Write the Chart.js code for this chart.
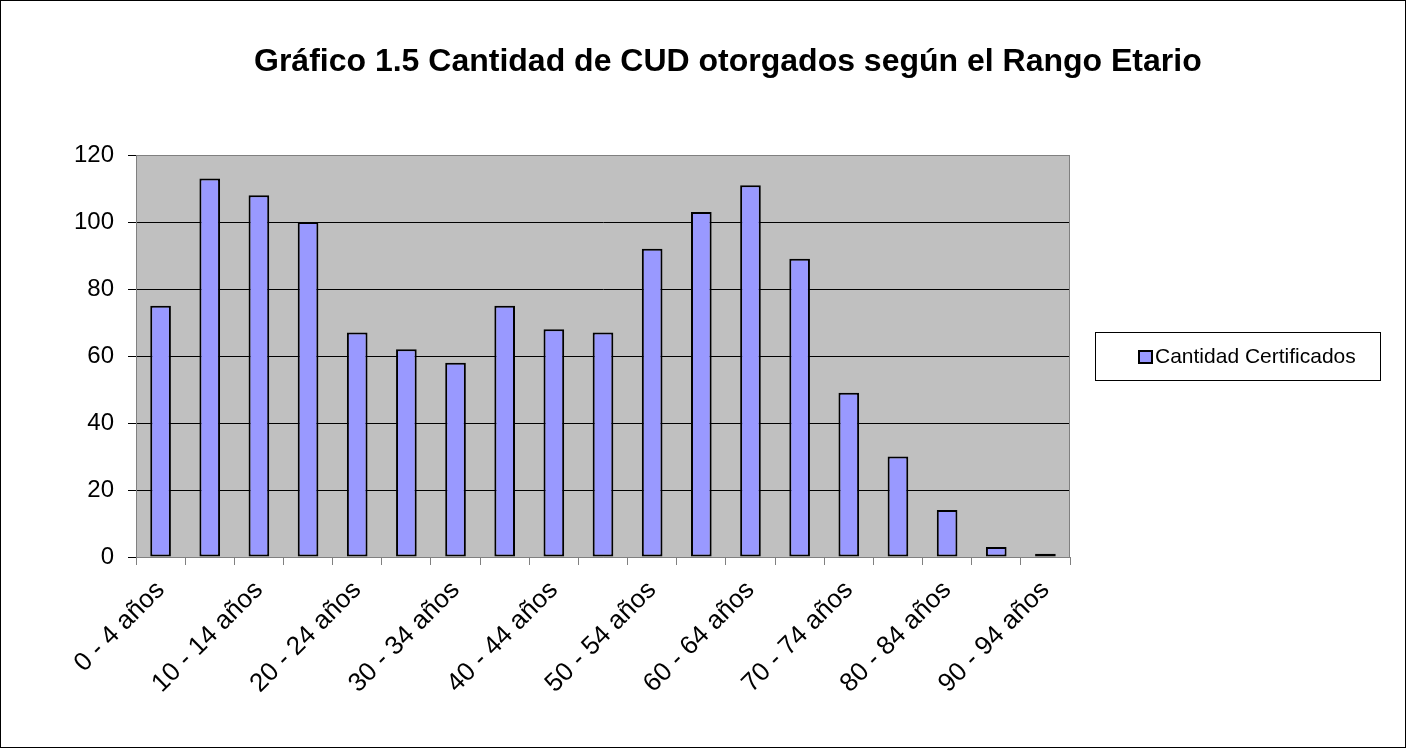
<!DOCTYPE html>
<html>
<head>
<meta charset="utf-8">
<script src="https://cdn.jsdelivr.net/npm/chart.js@4/dist/chart.umd.min.js"></script>
<style>
  html, body { margin: 0; padding: 0; background: #ffffff; }
  canvas { display: block; }
</style>
</head>
<body>
<canvas id="c" width="1406" height="748"></canvas>
<script>
const chartTitle = 'Gráfico 1.5 Cantidad de CUD otorgados según el Rango Etario';
const seriesLabel = 'Cantidad Certificados';
const categories = ['0 - 4 años','5 - 9 años','10 - 14 años','15 - 19 años','20 - 24 años','25 - 29 años','30 - 34 años','35 - 39 años','40 - 44 años','45 - 49 años','50 - 54 años','55 - 59 años','60 - 64 años','65 - 69 años','70 - 74 años','75 - 79 años','80 - 84 años','85 - 89 años','90 - 94 años'];
const certificados = [75,113,108,100,67,62,58,75,68,67,92,103,111,89,49,30,14,3,1];
const yTicks = [0,20,40,60,80,100,120];

const FONT = '"Liberation Sans", Arial, Helvetica, sans-serif';

const decor = {
  id: 'decor',
  beforeDraw(chart) {
    const { ctx, chartArea: a } = chart;
    ctx.save();
    ctx.fillStyle = '#ffffff';
    ctx.fillRect(0, 0, chart.width, chart.height);
    ctx.fillStyle = '#C0C0C0';
    ctx.fillRect(a.left, a.top, a.right - a.left, a.bottom - a.top);
    ctx.restore();
  },
  afterDatasetsDraw(chart) {
    const { ctx, chartArea: a } = chart;
    ctx.save();
    ctx.strokeStyle = '#808080';
    ctx.lineWidth = 1;
    ctx.beginPath();
    ctx.moveTo(a.left + 0.5, a.bottom);
    ctx.lineTo(a.left + 0.5, a.top + 0.5);
    ctx.lineTo(a.right - 0.5, a.top + 0.5);
    ctx.lineTo(a.right - 0.5, a.bottom);
    ctx.stroke();
    ctx.restore();
  },
  afterDraw(chart) {
    const { ctx } = chart;
    ctx.save();
    ctx.strokeStyle = '#000000';
    ctx.lineWidth = 1;
    ctx.strokeRect(0.5, 0.5, chart.width - 1, chart.height - 1);
    ctx.fillStyle = '#000000';
    ctx.font = 'bold 32px ' + FONT;
    ctx.textAlign = 'left';
    ctx.textBaseline = 'middle';
    ctx.fillText(chartTitle, 254, 62);
    const ds = chart.data.datasets[0];
    ctx.strokeStyle = '#000000';
    ctx.lineWidth = 1;
    ctx.strokeRect(1095.5, 332.5, 285, 48);
    ctx.fillStyle = ds.backgroundColor;
    ctx.fillRect(1139, 351, 13, 12);
    ctx.lineWidth = 2;
    ctx.strokeRect(1139, 351, 13, 12);
    ctx.fillStyle = '#000000';
    ctx.font = '21px ' + FONT;
    ctx.textAlign = 'left';
    ctx.textBaseline = 'middle';
    ctx.fillText(ds.label, 1155, 357);
    ctx.restore();
  }
};

new Chart(document.getElementById('c'), {
  type: 'bar',
  data: {
    labels: categories,
    datasets: [{
      label: seriesLabel,
      data: certificados,
      backgroundColor: '#9999FF',
      borderColor: '#000000',
      borderWidth: 2,
      borderSkipped: false,
      barPercentage: 0.42,
      categoryPercentage: 1.0
    }]
  },
  options: {
    responsive: false,
    animation: false,
    layout: { padding: { top: 155, right: 336, bottom: 0, left: 0 } },
    plugins: {
      legend: { display: false },
      title: { display: false },
      tooltip: { enabled: false }
    },
    scales: {
      x: {
        offset: true,
        grid: {
          display: true,
          offset: true,
          drawOnChartArea: false,
          drawTicks: true,
          tickLength: 8,
          color: '#808080'
        },
        border: { display: true, color: '#808080' },
        ticks: {
          autoSkip: false,
          maxRotation: 45,
          minRotation: 45,
          padding: 10,
          color: '#000000',
          font: { family: FONT, size: 26 },
          callback: function(value, index) {
            return index % 2 === 0 ? this.getLabelForValue(value) : '';
          }
        },
        afterFit(scale) { scale.height = 191; }
      },
      y: {
        min: 0,
        max: 120,
        afterBuildTicks(scale) { scale.ticks = yTicks.map(v => ({ value: v })); },
        grid: {
          color: (c) => (c.tick && (c.tick.value === 0 || c.tick.value === 120)) ? '#808080' : '#000000',
          tickColor: '#000000',
          tickLength: 8,
          lineWidth: 1
        },
        border: { display: true, color: '#808080' },
        ticks: {
          padding: 14,
          color: '#000000',
          font: { family: FONT, size: 24 }
        },
        afterFit(scale) { scale.width = 136; }
      }
    }
  },
  plugins: [decor]
});
</script>
</body>
</html>
